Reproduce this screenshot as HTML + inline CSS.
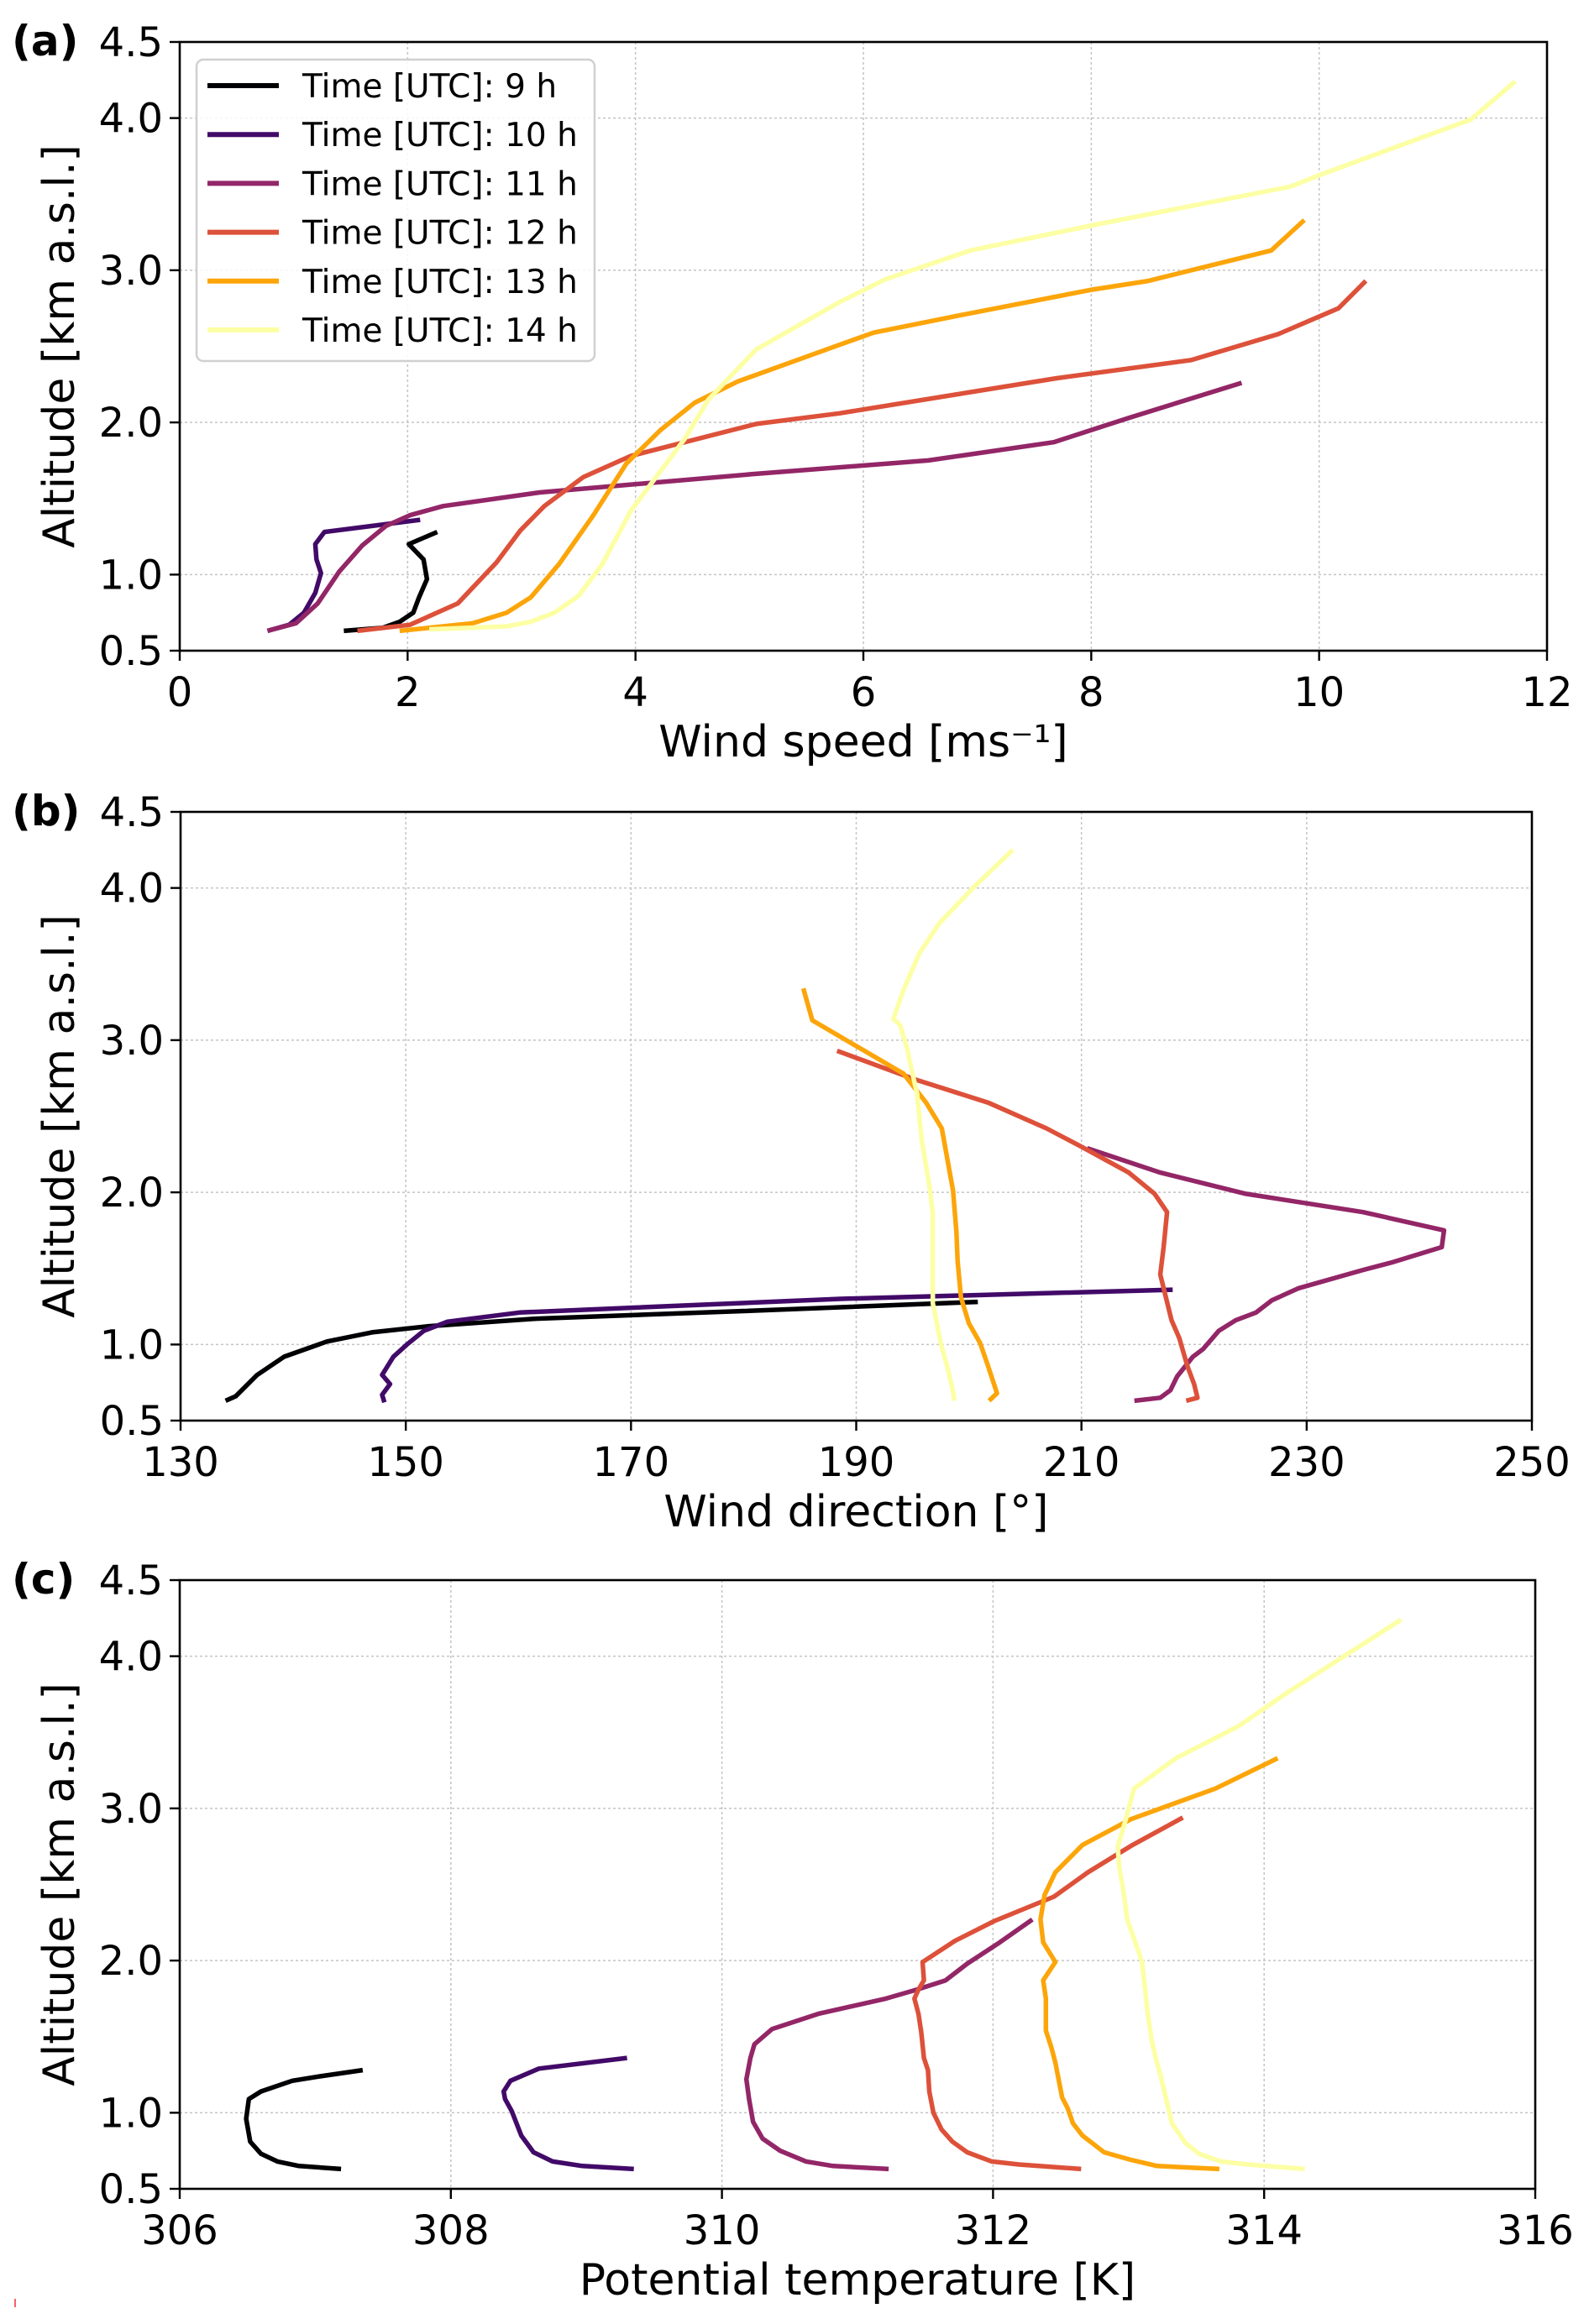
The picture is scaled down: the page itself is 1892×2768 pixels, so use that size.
<!DOCTYPE html>
<html><head><meta charset="utf-8">
<style>
html,body{margin:0;padding:0;background:#fff;}
svg{display:block;font-family:"DejaVu Sans","Liberation Sans",sans-serif;}
</style></head>
<body>
<svg id="fig" width="1892" height="2768" viewBox="0 0 1892 2768" xmlns="http://www.w3.org/2000/svg">
<rect width="1892" height="2768" fill="#fff"/>
<line x1="18" y1="2738" x2="18" y2="2748" stroke="#e33" stroke-width="1.5"/>
</svg>
<script>
// ---- data ----
const seriesLabels = ["Time [UTC]: 9 h","Time [UTC]: 10 h","Time [UTC]: 11 h","Time [UTC]: 12 h","Time [UTC]: 13 h","Time [UTC]: 14 h"];
const seriesColors = ["#000004","#420a68","#932667","#dd513a","#fca50a","#fcffa4"];
const altTicks = [0.5,1.0,2.0,3.0,4.0,4.5];
const altTickLabels = ["0.5","1.0","2.0","3.0","4.0","4.5"];

const speedTicks = [0,2,4,6,8,10,12];
const speed9 = [[1.44,0.63],[1.78,0.65],[1.93,0.69],[2.05,0.75],[2.1,0.85],[2.17,0.97],[2.14,1.1],[2.01,1.2],[2.26,1.28]];
const speed10 = [[0.77,0.63],[0.96,0.67],[1.09,0.75],[1.19,0.88],[1.24,1.01],[1.2,1.1],[1.19,1.2],[1.27,1.28],[2.11,1.36]];
const speed11 = [[0.77,0.63],[1.02,0.68],[1.21,0.81],[1.4,1.02],[1.6,1.19],[1.81,1.32],[2.02,1.39],[2.31,1.45],[3.16,1.54],[5.02,1.66],[6.57,1.75],[7.67,1.87],[8.33,2.03],[9.32,2.26]];
const speed12 = [[1.56,0.63],[2.02,0.67],[2.44,0.81],[2.78,1.08],[2.99,1.29],[3.2,1.45],[3.54,1.64],[3.96,1.78],[5.06,1.99],[5.79,2.06],[7.69,2.29],[8.88,2.41],[9.64,2.58],[10.17,2.75],[10.41,2.93]];
const speed13 = [[1.93,0.63],[2.57,0.68],[2.87,0.75],[3.08,0.85],[3.33,1.07],[3.63,1.39],[3.92,1.73],[4.22,1.95],[4.52,2.13],[4.9,2.27],[5.79,2.51],[6.09,2.59],[6.89,2.71],[7.99,2.87],[8.5,2.93],[9.58,3.13],[9.87,3.33]];
const speed14 = [[2.19,0.64],[2.87,0.66],[3.08,0.69],[3.29,0.75],[3.5,0.86],[3.71,1.07],[3.96,1.42],[4.18,1.64],[4.43,1.89],[4.64,2.15],[5.06,2.48],[5.79,2.79],[6.19,2.94],[6.94,3.13],[8.04,3.3],[9.75,3.55],[10.02,3.63],[11.33,3.99],[11.72,4.24]];

const dirTicks = [130,150,170,190,210,230,250];
const dir9 = [[134,0.63],[134.9,0.66],[136.8,0.8],[139.2,0.92],[143,1.02],[147,1.08],[152,1.12],[161.6,1.17],[180,1.22],[200.8,1.28]];
const dir10 = [[148.1,0.62],[147.9,0.67],[148.6,0.74],[147.9,0.8],[148.9,0.92],[150.1,1.0],[151.6,1.09],[153.7,1.15],[160.1,1.21],[188.6,1.3],[218.1,1.36]];
const dir11 = [[214.7,0.63],[217,0.65],[217.9,0.7],[218.5,0.79],[219.9,0.92],[220.8,0.97],[222.2,1.09],[223.7,1.16],[225.5,1.21],[226.9,1.29],[229.3,1.37],[235,1.49],[237.6,1.54],[242,1.64],[242.2,1.75],[235,1.87],[224.6,1.99],[217,2.13],[210.5,2.29]];
const dir12 = [[219.3,0.63],[220.3,0.65],[220,0.74],[219.4,0.86],[218.7,1.04],[218,1.16],[217.4,1.34],[217,1.46],[217.3,1.64],[217.6,1.87],[216.5,1.99],[214.2,2.13],[210,2.3],[206.9,2.42],[201.7,2.59],[195.3,2.74],[188.3,2.93]];
const dir13 = [[201.8,0.63],[202.5,0.68],[201.7,0.86],[201,1.01],[200,1.14],[199.3,1.31],[199,1.55],[198.9,1.74],[198.6,2.01],[197.6,2.42],[196.2,2.59],[194.2,2.78],[186.1,3.13],[185.3,3.34]];
const dir14 = [[198.7,0.63],[198.6,0.69],[198.2,0.82],[197.5,1.01],[196.8,1.27],[196.8,1.64],[196.8,1.86],[196.5,2.04],[195.8,2.35],[195.4,2.65],[194.9,2.81],[194.5,2.95],[193.9,3.1],[193.3,3.14],[194.2,3.33],[195.6,3.57],[197.4,3.77],[200.5,4.01],[203.9,4.25]];

const thetaTicks = [306,308,310,312,314,316];
const theta9 = [[307.19,0.63],[306.88,0.65],[306.72,0.68],[306.6,0.73],[306.52,0.81],[306.49,0.96],[306.51,1.09],[306.6,1.14],[306.83,1.21],[307.04,1.24],[307.35,1.28]];
const theta10 = [[309.35,0.63],[308.97,0.65],[308.75,0.68],[308.61,0.74],[308.52,0.85],[308.45,1.01],[308.4,1.09],[308.39,1.14],[308.44,1.21],[308.65,1.29],[309.3,1.36]];
const theta11 = [[311.23,0.63],[310.82,0.65],[310.62,0.68],[310.43,0.75],[310.3,0.83],[310.23,0.94],[310.2,1.09],[310.18,1.22],[310.21,1.36],[310.24,1.45],[310.37,1.55],[310.71,1.65],[311.21,1.75],[311.44,1.81],[311.65,1.87],[311.81,1.98],[312.05,2.12],[312.29,2.27]];
const theta12 = [[312.65,0.63],[312.19,0.66],[311.99,0.68],[311.81,0.74],[311.7,0.81],[311.62,0.89],[311.56,1.0],[311.53,1.14],[311.52,1.28],[311.49,1.36],[311.47,1.53],[311.45,1.65],[311.42,1.75],[311.45,1.81],[311.49,1.87],[311.48,1.99],[311.72,2.13],[312.01,2.26],[312.45,2.42],[312.7,2.58],[313.03,2.76],[313.4,2.94]];
const theta13 = [[313.67,0.63],[313.21,0.65],[313.02,0.69],[312.82,0.74],[312.66,0.85],[312.59,0.93],[312.55,1.03],[312.51,1.1],[312.46,1.33],[312.43,1.43],[312.39,1.54],[312.39,1.75],[312.37,1.87],[312.46,1.99],[312.37,2.12],[312.35,2.27],[312.38,2.43],[312.46,2.58],[312.66,2.76],[313.02,2.93],[313.64,3.13],[314.1,3.33]];
const theta14 = [[314.3,0.63],[313.88,0.66],[313.68,0.68],[313.52,0.73],[313.42,0.8],[313.32,0.93],[313.28,1.08],[313.24,1.23],[313.2,1.36],[313.17,1.48],[313.14,1.66],[313.1,1.99],[312.99,2.27],[312.96,2.47],[312.93,2.62],[312.92,2.75],[312.98,2.93],[313.04,3.13],[313.35,3.33],[313.81,3.54],[314.17,3.76],[315.01,4.24]];

// ---- drawing ----
const NS = "http://www.w3.org/2000/svg";
const svg = document.getElementById("fig");
function el(tag, attrs, parent){
  const e = document.createElementNS(NS, tag);
  for (const k in attrs) e.setAttribute(k, attrs[k]);
  (parent||svg).appendChild(e);
  return e;
}
function panel(cfg){
  const g = el("g", {});
  
  
  const L=cfg.left,R=cfg.right,T=cfg.top,B=cfg.bottom;
  const xs = v => L + (v - cfg.xmin)/(cfg.xmax - cfg.xmin)*(R-L);
  const ys = v => B - (v - 0.5)/(4.5 - 0.5)*(B-T);
  cfg.xticks.forEach(v=>{
    const l = el("line",{x1:xs(v),x2:xs(v),y1:T,y2:B,stroke:"#c4c4c4","stroke-width":1.5,"stroke-dasharray":"3,3"},g);
    
    
  });
  altTicks.forEach(v=>{
    const l = el("line",{x1:L,x2:R,y1:ys(v),y2:ys(v),stroke:"#c4c4c4","stroke-width":1.5,"stroke-dasharray":"3,3"},g);
    
    
  });
  cfg.series.forEach((s,i)=>{
    const p = el("polyline",{points:s.map(d=>xs(d[0]).toFixed(1)+","+ys(d[1]).toFixed(1)).join(" "),fill:"none",stroke:seriesColors[i],"stroke-width":5.5,"stroke-linejoin":"round","stroke-linecap":"butt"},g);
    
    
  });
  const fr = el("rect",{x:L,y:T,width:R-L,height:B-T,fill:"none",stroke:"#000","stroke-width":2.6},g);
  
  
  cfg.xticks.forEach(v=>{
    el("line",{x1:xs(v),x2:xs(v),y1:B,y2:B+12,stroke:"#000","stroke-width":2.4},g);
    const t = el("text",{x:xs(v),y:B+66,"text-anchor":"middle","font-size":48,fill:"#000"},g);
    t.textContent = String(v);
    
    
  });
  altTicks.forEach((v,i)=>{
    el("line",{x1:L-12,x2:L,y1:ys(v),y2:ys(v),stroke:"#000","stroke-width":2.4},g);
    const t = el("text",{x:L-20,y:ys(v)+17,"text-anchor":"end","font-size":48,fill:"#000"},g);
    t.textContent = altTickLabels[i];
    
    
  });
  const xl = el("text",{x:(L+R)/2,y:B+126,"text-anchor":"middle","font-size":52,fill:"#000"},g);
  xl.textContent = cfg.xlabel;
  
  
  const yc = (T+B)/2;
  const yl = el("text",{x:88,y:yc,"text-anchor":"middle","font-size":52,fill:"#000",transform:"rotate(-90 88 "+yc+")"},g);
  yl.textContent = "Altitude [km a.s.l.]";
  
  
  const pl = el("text",{x:14,y:T+16,"font-size":50,"font-weight":"bold",fill:"#000"},g);
  pl.textContent = cfg.tag;
  
  
  return g;
}

panel({name:"panel-a-wind-speed",tag:"(a)",left:214,right:1842,top:50,bottom:775,xmin:0,xmax:12,xticks:speedTicks,xlabel:"Wind speed [ms\u207B\u00B9]",series:[speed9,speed10,speed11,speed12,speed13,speed14]});
panel({name:"panel-b-wind-direction",tag:"(b)",left:215,right:1824,top:967,bottom:1692,xmin:130,xmax:250,xticks:dirTicks,xlabel:"Wind direction [\u00B0]",series:[dir9,dir10,dir11,dir12,dir13,dir14]});
panel({name:"panel-c-potential-temperature",tag:"(c)",left:214,right:1828,top:1882,bottom:2607,xmin:306,xmax:316,xticks:thetaTicks,xlabel:"Potential temperature [K]",series:[theta9,theta10,theta11,theta12,theta13,theta14]});

const lg = el("g",{});


el("rect",{x:234,y:71,width:474,height:359,rx:8,fill:"#fff","fill-opacity":0.85,stroke:"#d0d0d0","stroke-width":2.5},lg);
seriesLabels.forEach((lab,i)=>{
  const y = 102 + i*58.2;
  const ln = el("line",{x1:247,x2:332,y1:y,y2:y,stroke:seriesColors[i],"stroke-width":6},lg);
  
  
  const t = el("text",{x:360,y:y+14,"font-size":39,fill:"#000"},lg);
  t.textContent = lab;
  
  
});
</script>
</body></html>
